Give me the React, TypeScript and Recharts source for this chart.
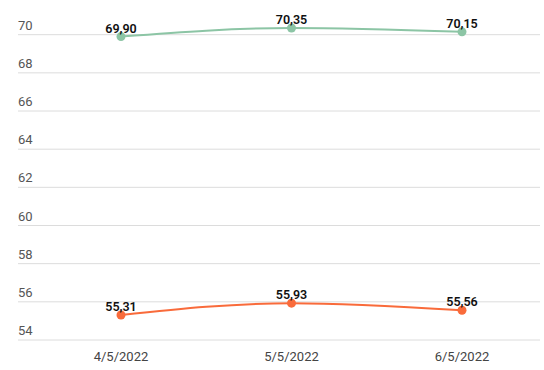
import { LineChart, Line, XAxis, YAxis, CartesianGrid, LabelList } from "recharts";

const DATES = ["4/5/2022", "5/5/2022", "6/5/2022"];
const GREEN_VALS = [69.9, 70.35, 70.15];
const ORANGE_VALS = [55.31, 55.93, 55.56];
const Y_TICKS = [54, 56, 58, 60, 62, 64, 66, 68, 70];

const rows = DATES.map((d, i) => ({ date: d, green: GREEN_VALS[i], orange: ORANGE_VALS[i] }));

const fmt = (v: number) => v.toFixed(2).replace(".", ",");

function YTick({ y, payload }: any) {
  return (
    <text x={18} y={y - 5} textAnchor="start" fill="#555" fontSize={13}>
      {payload.value}
    </text>
  );
}

export default function App() {
  return (
    <div style={{ position: "absolute", left: 0, top: 0, fontFamily: "Roboto, sans-serif" }}>
      <LineChart width={544} height={370} data={rows} margin={{ top: 28, right: 4, left: 17, bottom: 0 }}>
        <CartesianGrid vertical={false} stroke="#dcdcdc" horizontalValues={Y_TICKS} />
        <XAxis
          dataKey="date"
          axisLine={false}
          tickLine={false}
          height={30}
          tickMargin={6}
          padding={{ left: 103, right: 78 }}
          tick={{ fill: "#444", fontSize: 13 }}
        />
        <YAxis
          domain={[54, 70.35]}
          ticks={Y_TICKS}
          interval={0}
          width={1}
          axisLine={false}
          tickLine={false}
          tick={YTick}
        />
        <Line
          type="monotone"
          dataKey="green"
          stroke="#8cc5a5"
          strokeWidth={2}
          dot={{ r: 4.5, fill: "#8cc5a5", stroke: "#8cc5a5", strokeWidth: 0 }}
          isAnimationActive={false}
        >
          <LabelList dataKey="green" position="top" offset={4} formatter={fmt} fill="#111" fontSize={12.5} fontWeight={600} />
        </Line>
        <Line
          type="monotone"
          dataKey="orange"
          stroke="#f96b3b"
          strokeWidth={2}
          dot={{ r: 4.5, fill: "#f96b3b", stroke: "#f96b3b", strokeWidth: 0 }}
          isAnimationActive={false}
        >
          <LabelList dataKey="orange" position="top" offset={4} formatter={fmt} fill="#111" fontSize={12.5} fontWeight={600} />
        </Line>
      </LineChart>
    </div>
  );
}
